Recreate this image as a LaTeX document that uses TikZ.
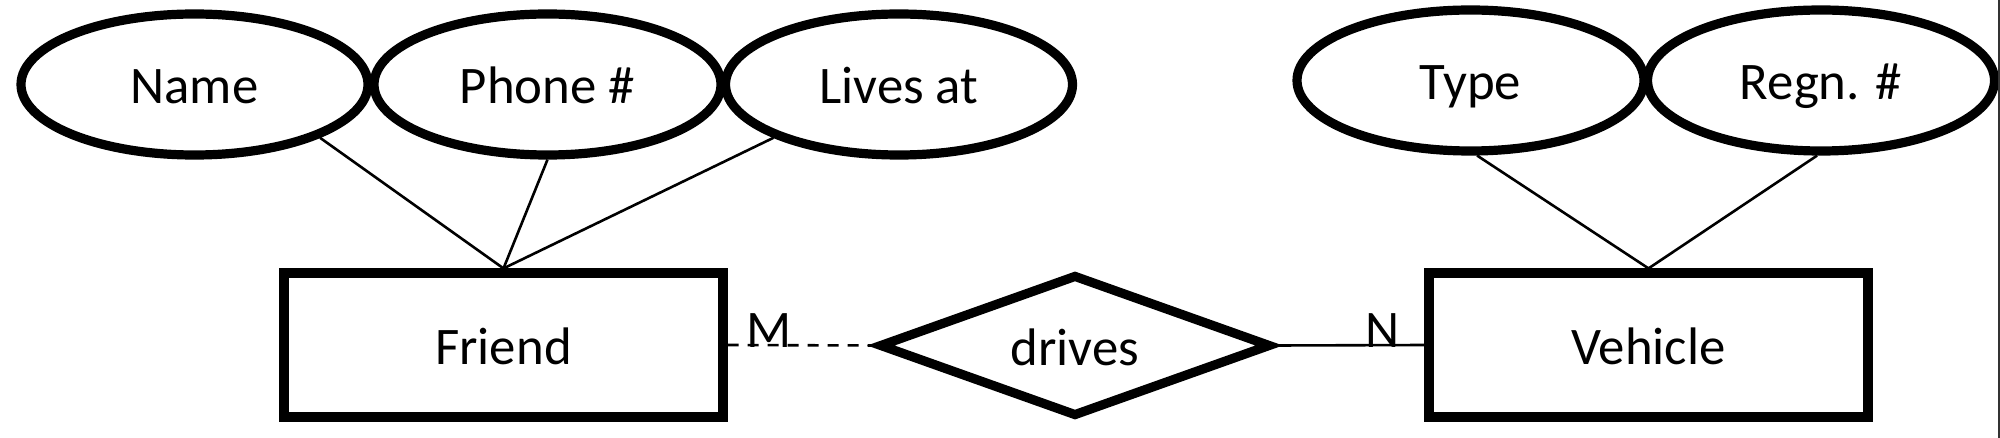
\documentclass[tikz,border=0pt]{standalone}
\usepackage{fontspec}
\setmainfont{Carlito}
\usetikzlibrary{shapes.geometric}
\begin{document}
\begin{tikzpicture}[x=0.5pt,y=-0.5pt,
  lbl/.style={font=\fontsize{26.4}{30}\selectfont, text height=25pt, text depth=5.5pt},
  attr/.style={ellipse, draw, line width=4.6pt, minimum width=173.5pt, minimum height=70.5pt, inner sep=0pt, lbl},
  ent/.style={rectangle, draw, line width=4.6pt, minimum width=219.5pt, minimum height=72pt, inner sep=0pt, lbl},
  rel/.style={diamond, draw, line width=4.6pt, minimum width=196pt, minimum height=71pt, aspect=2.76, inner sep=0pt, lbl},
  conn/.style={line width=1.3pt},
  card/.style={font=\fontsize{26.4}{30}\selectfont, anchor=base, inner sep=0pt, yshift=-1pt}]
\useasboundingbox (0,0) rectangle (2000,438);
\fill[white] (0,0) rectangle (2000,438);
\node[attr] (name)  at (194.5,84.5) {Name};
\node[attr] (phone) at (547.5,84.5) {Phone \#};
\node[attr] (lives) at (899,84.5) {Lives at};
\node[attr] (type)  at (1470.5,80.5) {Type};
\node[attr] (regn)  at (1821,80.5) {Regn. \#};
\node[ent] (friend)  at (503.5,345) {Friend};
\node[ent] (vehicle) at (1648.5,345) {Vehicle};
\node[rel] (drives)  at (1075,345.5) {drives};
\draw[conn] (name.-23) -- (friend.north);
\draw[conn] (phone.south) -- (friend.north);
\draw[conn] (lives.-157) -- (friend.north);
\draw[conn] (type.-85) -- (vehicle.north);
\draw[conn] (regn.-93) -- (vehicle.north);
\draw[conn, dash pattern=on 5.5pt off 4.5pt] (friend.east) -- node[card, pos=0.28] {M} (drives.west);
\draw[conn] (drives.east) -- node[card, pos=0.72] {N} (vehicle.west);
\coordinate (edgetop) at (1998.8,0);
\coordinate (edgebot) at (1998.8,438);
\draw[line width=0.8pt, black!80] (edgetop) -- (edgebot);
\end{tikzpicture}
\end{document}
